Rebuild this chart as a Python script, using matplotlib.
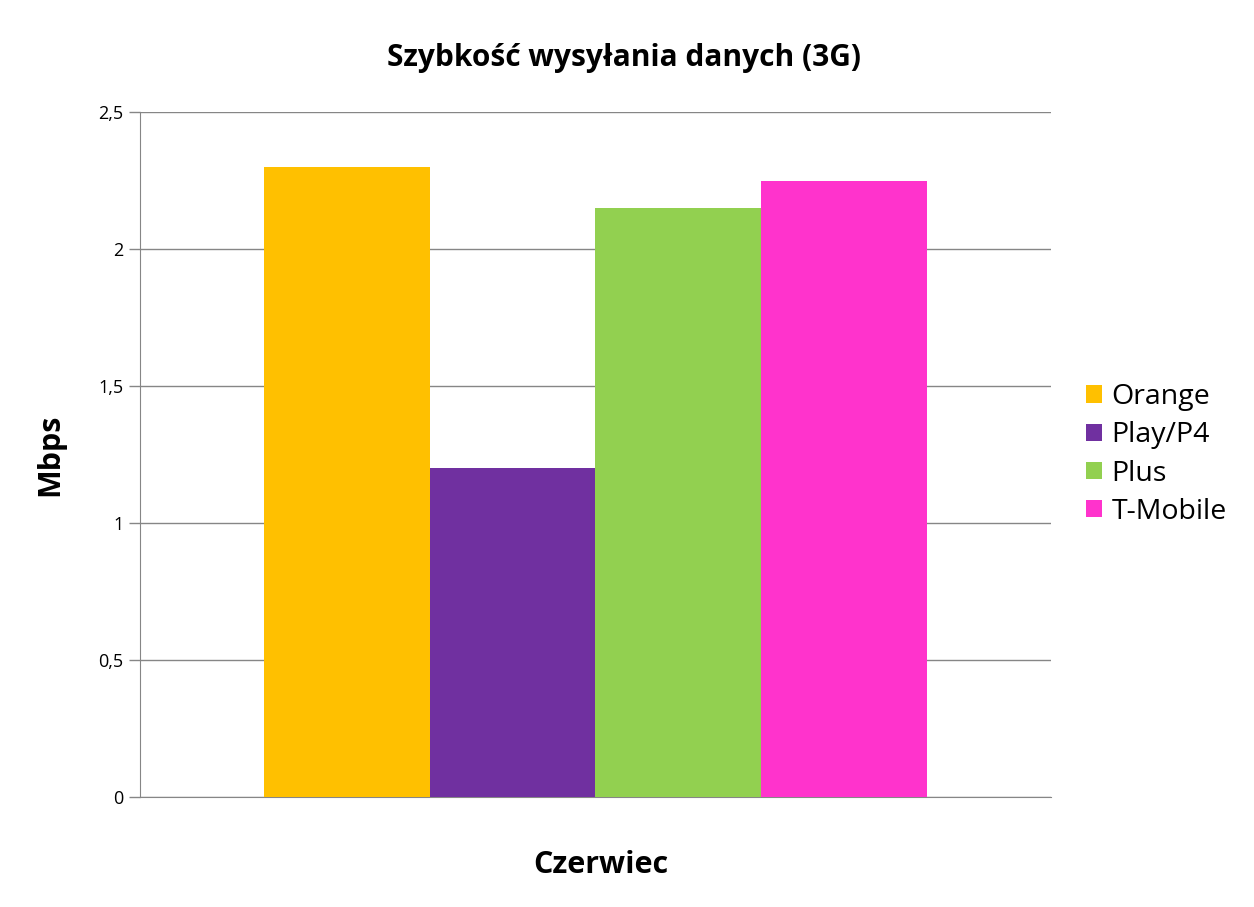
import matplotlib.pyplot as plt
from matplotlib.ticker import FuncFormatter

plt.rcParams['font.family'] = ['Open Sans', 'DejaVu Sans']

operators = ["Orange", "Play/P4", "Plus", "T-Mobile"]
upload = [2.3, 1.2, 2.15, 2.25]
colors = ["#FFC000", "#7030A0", "#92D050", "#FF33CC"]
yticks = [0, 0.5, 1, 1.5, 2, 2.5]

fig = plt.figure(figsize=(12.54, 9.07), dpi=100)
ax = fig.add_axes([0.1116, 0.1213, 0.7265, 0.7552])

w = 0.182
for i, (name, v, c) in enumerate(zip(operators, upload, colors)):
    ax.bar((i - 1.5) * w, v, width=w, color=c, label=name, zorder=3)

ax.set_xlim(-0.5, 0.5)
ax.set_ylim(0, 2.5)
ax.set_yticks(yticks)
ax.yaxis.set_major_formatter(FuncFormatter(lambda v, p: ("%g" % v).replace(".", ",")))
ax.set_xticks([])
ax.grid(axis="y", color="#868686", lw=1, zorder=0)
ax.tick_params(axis="y", length=8, width=1, color="#868686", labelsize=13, pad=4)
for s in ["top", "right"]:
    ax.spines[s].set_visible(False)
for s in ["left", "bottom"]:
    ax.spines[s].set_color("#868686")

fig.suptitle("Szybkość wysyłania danych (3G)", fontsize=21.5, fontweight="bold",
             x=0.498, y=0.953)
ax.set_ylabel("Mbps", fontsize=22, fontweight="bold", labelpad=24)
ax.set_xlabel("Czerwiec", fontsize=22, fontweight="bold")
ax.xaxis.set_label_coords(0.506, -0.078)

fig.legend(loc="center left", bbox_to_anchor=(0.866, 0.499), frameon=False,
           fontsize=20.5, handlelength=0.55, handleheight=0.55, handletextpad=0.35,
           labelspacing=0.36, borderpad=0, borderaxespad=0)

fig.savefig("out.png")
